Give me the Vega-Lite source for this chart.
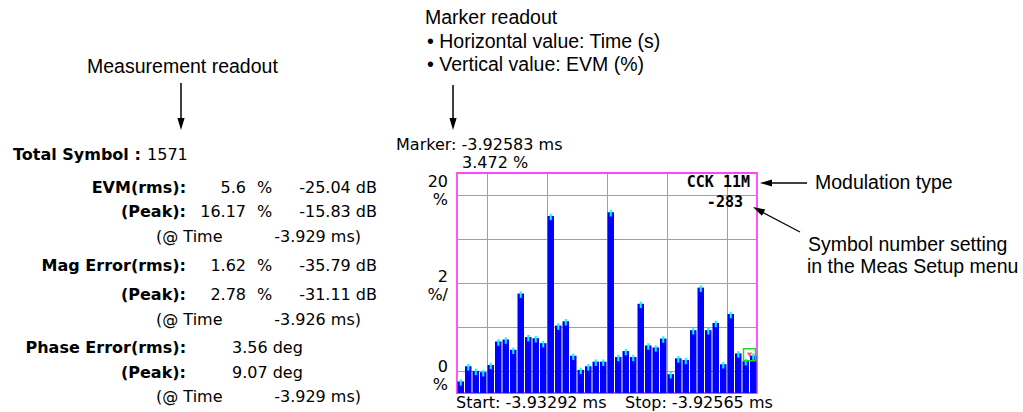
{
  "$schema": "https://vega.github.io/schema/vega-lite/v6.json",
  "width": 300,
  "height": 220,
  "autosize": "none",
  "padding": {"left": 457, "top": 173, "right": 266, "bottom": 19},
  "background": "white",
  "config": {
    "view": {"stroke": "#ff44ff", "strokeWidth": 1.8},
    "axis": {"grid": true, "gridColor": "#a0a0a0", "gridOpacity": 1, "gridWidth": 1, "labels": false, "ticks": false, "domain": false, "title": null},
    "scale": {"continuousPadding": 0},
    "text": {"font": "DejaVu Sans", "fontSize": 16, "baseline": "middle", "color": "black"}
  },
  "datasets": {
    "evm": [
      {"symbol": 1, "evm": 1.05}, {"symbol": 2, "evm": 2.43}, {"symbol": 3, "evm": 2.01}, {"symbol": 4, "evm": 1.89},
      {"symbol": 5, "evm": 2.55}, {"symbol": 6, "evm": 4.68}, {"symbol": 7, "evm": 4.86}, {"symbol": 8, "evm": 3.93},
      {"symbol": 9, "evm": 9.04}, {"symbol": 10, "evm": 5.08}, {"symbol": 11, "evm": 4.98}, {"symbol": 12, "evm": 4.53},
      {"symbol": 13, "evm": 16.1}, {"symbol": 14, "evm": 6.13}, {"symbol": 15, "evm": 6.52}, {"symbol": 16, "evm": 3.39},
      {"symbol": 17, "evm": 2.1}, {"symbol": 18, "evm": 2.43}, {"symbol": 19, "evm": 2.85}, {"symbol": 20, "evm": 2.85},
      {"symbol": 21, "evm": 16.43}, {"symbol": 22, "evm": 3.27}, {"symbol": 23, "evm": 3.81}, {"symbol": 24, "evm": 3.27},
      {"symbol": 25, "evm": 8.11}, {"symbol": 26, "evm": 4.32}, {"symbol": 27, "evm": 4.14}, {"symbol": 28, "evm": 4.95},
      {"symbol": 29, "evm": 1.71}, {"symbol": 30, "evm": 3.15}, {"symbol": 31, "evm": 3.0}, {"symbol": 32, "evm": 5.71},
      {"symbol": 33, "evm": 9.58}, {"symbol": 34, "evm": 5.71}, {"symbol": 35, "evm": 6.37}, {"symbol": 36, "evm": 2.61},
      {"symbol": 37, "evm": 7.18}, {"symbol": 38, "evm": 3.6}, {"symbol": 39, "evm": 2.9}, {"symbol": 40, "evm": 3.4}
    ]
  },
  "data": {"values": [{}]},
  "layer": [
    {
      "data": {"name": "evm"},
      "mark": {"type": "bar", "orient": "vertical", "size": 6.5, "color": "#0000ff"},
      "encoding": {
        "x": {"field": "symbol", "type": "quantitative",
              "scale": {"domain": [0.5, 40.5], "nice": false, "zero": false, "padding": 0},
              "axis": {"values": [4.5, 8.5, 12.5, 16.5, 20.5, 24.5, 28.5, 32.5, 36.5], "grid": true, "zindex": 0}},
        "y": {"field": "evm", "type": "quantitative",
              "scale": {"domain": [0, 20], "nice": false, "padding": 0},
              "axis": {"values": [2, 4, 6, 8, 10, 12, 14, 16, 18], "grid": true, "zindex": 0}}
      }
    },
    {
      "data": {"name": "evm"},
      "mark": {"type": "tick", "orient": "vertical", "size": 6.5, "thickness": 2, "yOffset": 1, "color": "#00ffff", "opacity": 1},
      "encoding": {
        "x": {"field": "symbol", "type": "quantitative"},
        "y": {"field": "evm", "type": "quantitative"}
      }
    },
    {"mark": {"type": "point", "shape": "square", "filled": false, "stroke": "#22dd22", "strokeWidth": 1.5, "size": 144, "opacity": 1},
     "encoding": {"x": {"datum": 39.5}, "y": {"datum": 3.472}}},
    {"mark": {"type": "point", "shape": "triangle-down", "filled": true, "fill": "#ff6666", "size": 30, "opacity": 1},
     "encoding": {"x": {"datum": 39.5}, "y": {"datum": 3.472}}},

    {"mark": {"type": "text", "text": "CCK 11M", "font": "DejaVu Sans Mono", "fontSize": 15, "fontWeight": "bold", "align": "right"},
     "encoding": {"x": {"datum": 39.57}, "y": {"datum": 19.18}}},
    {"mark": {"type": "text", "text": "-283", "font": "DejaVu Sans Mono", "fontSize": 15, "fontWeight": "bold", "align": "right"},
     "encoding": {"x": {"datum": 38.63}, "y": {"datum": 17.36}}},

    {"mark": {"type": "text", "text": "20", "align": "right"}, "encoding": {"x": {"datum": -0.7}, "y": {"datum": 19.18}}},
    {"mark": {"type": "text", "text": "%", "align": "right"}, "encoding": {"x": {"datum": -0.7}, "y": {"datum": 17.55}}},
    {"mark": {"type": "text", "text": "2", "align": "right"}, "encoding": {"x": {"datum": -0.7}, "y": {"datum": 10.55}}},
    {"mark": {"type": "text", "text": "%/", "align": "right"}, "encoding": {"x": {"datum": -0.7}, "y": {"datum": 8.91}}},
    {"mark": {"type": "text", "text": "0", "align": "right"}, "encoding": {"x": {"datum": -0.7}, "y": {"datum": 2.36}}},
    {"mark": {"type": "text", "text": "%", "align": "right"}, "encoding": {"x": {"datum": -0.7}, "y": {"datum": 0.73}}},

    {"mark": {"type": "text", "text": "Marker: -3.92583 ms", "align": "left"}, "encoding": {"x": {"datum": -7.63}, "y": {"datum": 22.55}}},
    {"mark": {"type": "text", "text": "3.472 %", "align": "left"}, "encoding": {"x": {"datum": 1.17}, "y": {"datum": 20.91}}},
    {"mark": {"type": "text", "text": "Start: -3.93292 ms", "align": "left"}, "encoding": {"x": {"datum": 0.37}, "y": {"datum": -0.91}}},
    {"mark": {"type": "text", "text": "Stop: -3.92565 ms", "align": "left"}, "encoding": {"x": {"datum": 22.9}, "y": {"datum": -0.91}}},

    {"mark": {"type": "text", "text": "Total Symbol :", "align": "left", "fontWeight": "bold"}, "encoding": {"x": {"datum": -58.7}, "y": {"datum": 21.64}}},
    {"mark": {"type": "text", "text": "1571", "align": "left"}, "encoding": {"x": {"datum": -40.83}, "y": {"datum": 21.64}}},

    {"mark": {"type": "text", "text": "EVM(rms):", "align": "right", "fontWeight": "bold"}, "encoding": {"x": {"datum": -35.63}, "y": {"datum": 18.64}}},
    {"mark": {"type": "text", "text": "5.6", "align": "right"}, "encoding": {"x": {"datum": -27.63}, "y": {"datum": 18.64}}},
    {"mark": {"type": "text", "text": "%", "align": "left"}, "encoding": {"x": {"datum": -26.17}, "y": {"datum": 18.64}}},
    {"mark": {"type": "text", "text": "-25.04 dB", "align": "right"}, "encoding": {"x": {"datum": -10.17}, "y": {"datum": 18.64}}},

    {"mark": {"type": "text", "text": "(Peak):", "align": "right", "fontWeight": "bold"}, "encoding": {"x": {"datum": -35.63}, "y": {"datum": 16.45}}},
    {"mark": {"type": "text", "text": "16.17", "align": "right"}, "encoding": {"x": {"datum": -27.63}, "y": {"datum": 16.45}}},
    {"mark": {"type": "text", "text": "%", "align": "left"}, "encoding": {"x": {"datum": -26.17}, "y": {"datum": 16.45}}},
    {"mark": {"type": "text", "text": "-15.83 dB", "align": "right"}, "encoding": {"x": {"datum": -10.17}, "y": {"datum": 16.45}}},

    {"mark": {"type": "text", "text": "(@ Time", "align": "left"}, "encoding": {"x": {"datum": -39.63}, "y": {"datum": 14.18}}},
    {"mark": {"type": "text", "text": "-3.929 ms)", "align": "right"}, "encoding": {"x": {"datum": -12.3}, "y": {"datum": 14.18}}},

    {"mark": {"type": "text", "text": "Mag Error(rms):", "align": "right", "fontWeight": "bold"}, "encoding": {"x": {"datum": -35.63}, "y": {"datum": 11.55}}},
    {"mark": {"type": "text", "text": "1.62", "align": "right"}, "encoding": {"x": {"datum": -27.63}, "y": {"datum": 11.55}}},
    {"mark": {"type": "text", "text": "%", "align": "left"}, "encoding": {"x": {"datum": -26.17}, "y": {"datum": 11.55}}},
    {"mark": {"type": "text", "text": "-35.79 dB", "align": "right"}, "encoding": {"x": {"datum": -10.17}, "y": {"datum": 11.55}}},

    {"mark": {"type": "text", "text": "(Peak):", "align": "right", "fontWeight": "bold"}, "encoding": {"x": {"datum": -35.63}, "y": {"datum": 8.91}}},
    {"mark": {"type": "text", "text": "2.78", "align": "right"}, "encoding": {"x": {"datum": -27.63}, "y": {"datum": 8.91}}},
    {"mark": {"type": "text", "text": "%", "align": "left"}, "encoding": {"x": {"datum": -26.17}, "y": {"datum": 8.91}}},
    {"mark": {"type": "text", "text": "-31.11 dB", "align": "right"}, "encoding": {"x": {"datum": -10.17}, "y": {"datum": 8.91}}},

    {"mark": {"type": "text", "text": "(@ Time", "align": "left"}, "encoding": {"x": {"datum": -39.63}, "y": {"datum": 6.64}}},
    {"mark": {"type": "text", "text": "-3.926 ms)", "align": "right"}, "encoding": {"x": {"datum": -12.3}, "y": {"datum": 6.64}}},

    {"mark": {"type": "text", "text": "Phase Error(rms):", "align": "right", "fontWeight": "bold"}, "encoding": {"x": {"datum": -35.63}, "y": {"datum": 4.09}}},
    {"mark": {"type": "text", "text": "3.56 deg", "align": "left"}, "encoding": {"x": {"datum": -29.5}, "y": {"datum": 4.09}}},
    {"mark": {"type": "text", "text": "(Peak):", "align": "right", "fontWeight": "bold"}, "encoding": {"x": {"datum": -35.63}, "y": {"datum": 1.82}}},
    {"mark": {"type": "text", "text": "9.07 deg", "align": "left"}, "encoding": {"x": {"datum": -29.5}, "y": {"datum": 1.82}}},
    {"mark": {"type": "text", "text": "(@ Time", "align": "left"}, "encoding": {"x": {"datum": -39.63}, "y": {"datum": -0.36}}},
    {"mark": {"type": "text", "text": "-3.929 ms)", "align": "right"}, "encoding": {"x": {"datum": -12.3}, "y": {"datum": -0.36}}},

    {"mark": {"type": "text", "text": "Measurement readout", "align": "left", "font": "Liberation Sans", "fontSize": 19.5}, "encoding": {"x": {"datum": -48.83}, "y": {"datum": 29.64}}},
    {"mark": {"type": "text", "text": "Marker readout", "align": "left", "font": "Liberation Sans", "fontSize": 19.5}, "encoding": {"x": {"datum": -3.77}, "y": {"datum": 34.09}}},
    {"mark": {"type": "text", "text": "• Horizontal value: Time (s)", "align": "left", "font": "Liberation Sans", "fontSize": 19.5}, "encoding": {"x": {"datum": -3.5}, "y": {"datum": 31.91}}},
    {"mark": {"type": "text", "text": "• Vertical value: EVM (%)", "align": "left", "font": "Liberation Sans", "fontSize": 19.5}, "encoding": {"x": {"datum": -3.5}, "y": {"datum": 29.82}}},
    {"mark": {"type": "text", "text": "Modulation type", "align": "left", "font": "Liberation Sans", "fontSize": 19.5}, "encoding": {"x": {"datum": 48.23}, "y": {"datum": 19.09}}},
    {"mark": {"type": "text", "text": "Symbol number setting", "align": "left", "font": "Liberation Sans", "fontSize": 19.5}, "encoding": {"x": {"datum": 47.3}, "y": {"datum": 13.45}}},
    {"mark": {"type": "text", "text": "in the Meas Setup menu", "align": "left", "font": "Liberation Sans", "fontSize": 19.5}, "encoding": {"x": {"datum": 47.17}, "y": {"datum": 11.45}}},

    {"mark": {"type": "rule", "color": "black", "strokeWidth": 1.5},
     "encoding": {"x": {"datum": -36.3}, "y": {"datum": 28.18}, "y2": {"datum": 24.82}}},
    {"mark": {"type": "point", "shape": "M0,-1L0.6,1L-0.6,1Z", "filled": true, "fill": "black", "size": 144, "opacity": 1, "angle": 180},
     "encoding": {"x": {"datum": -36.3}, "y": {"datum": 24.45}}},
    {"mark": {"type": "rule", "color": "black", "strokeWidth": 1.5},
     "encoding": {"x": {"datum": -0.03}, "y": {"datum": 28.0}, "y2": {"datum": 24.82}}},
    {"mark": {"type": "point", "shape": "M0,-1L0.6,1L-0.6,1Z", "filled": true, "fill": "black", "size": 144, "opacity": 1, "angle": 180},
     "encoding": {"x": {"datum": -0.03}, "y": {"datum": 24.45}}},
    {"mark": {"type": "rule", "color": "black", "strokeWidth": 1.5},
     "encoding": {"x": {"datum": 47.17}, "x2": {"datum": 41.97}, "y": {"datum": 19.09}}},
    {"mark": {"type": "point", "shape": "M0,-1L0.6,1L-0.6,1Z", "filled": true, "fill": "black", "size": 144, "opacity": 1, "angle": 270},
     "encoding": {"x": {"datum": 41.7}, "y": {"datum": 19.09}}},
    {"mark": {"type": "rule", "color": "black", "strokeWidth": 1.2},
     "encoding": {"x": {"datum": 46.23}, "y": {"datum": 14.64}, "x2": {"datum": 41.17}, "y2": {"datum": 16.45}}},
    {"mark": {"type": "point", "shape": "M0,-1L0.6,1L-0.6,1Z", "filled": true, "fill": "black", "size": 144, "opacity": 1, "angle": 298},
     "encoding": {"x": {"datum": 40.67}, "y": {"datum": 16.65}}}
  ]
}
